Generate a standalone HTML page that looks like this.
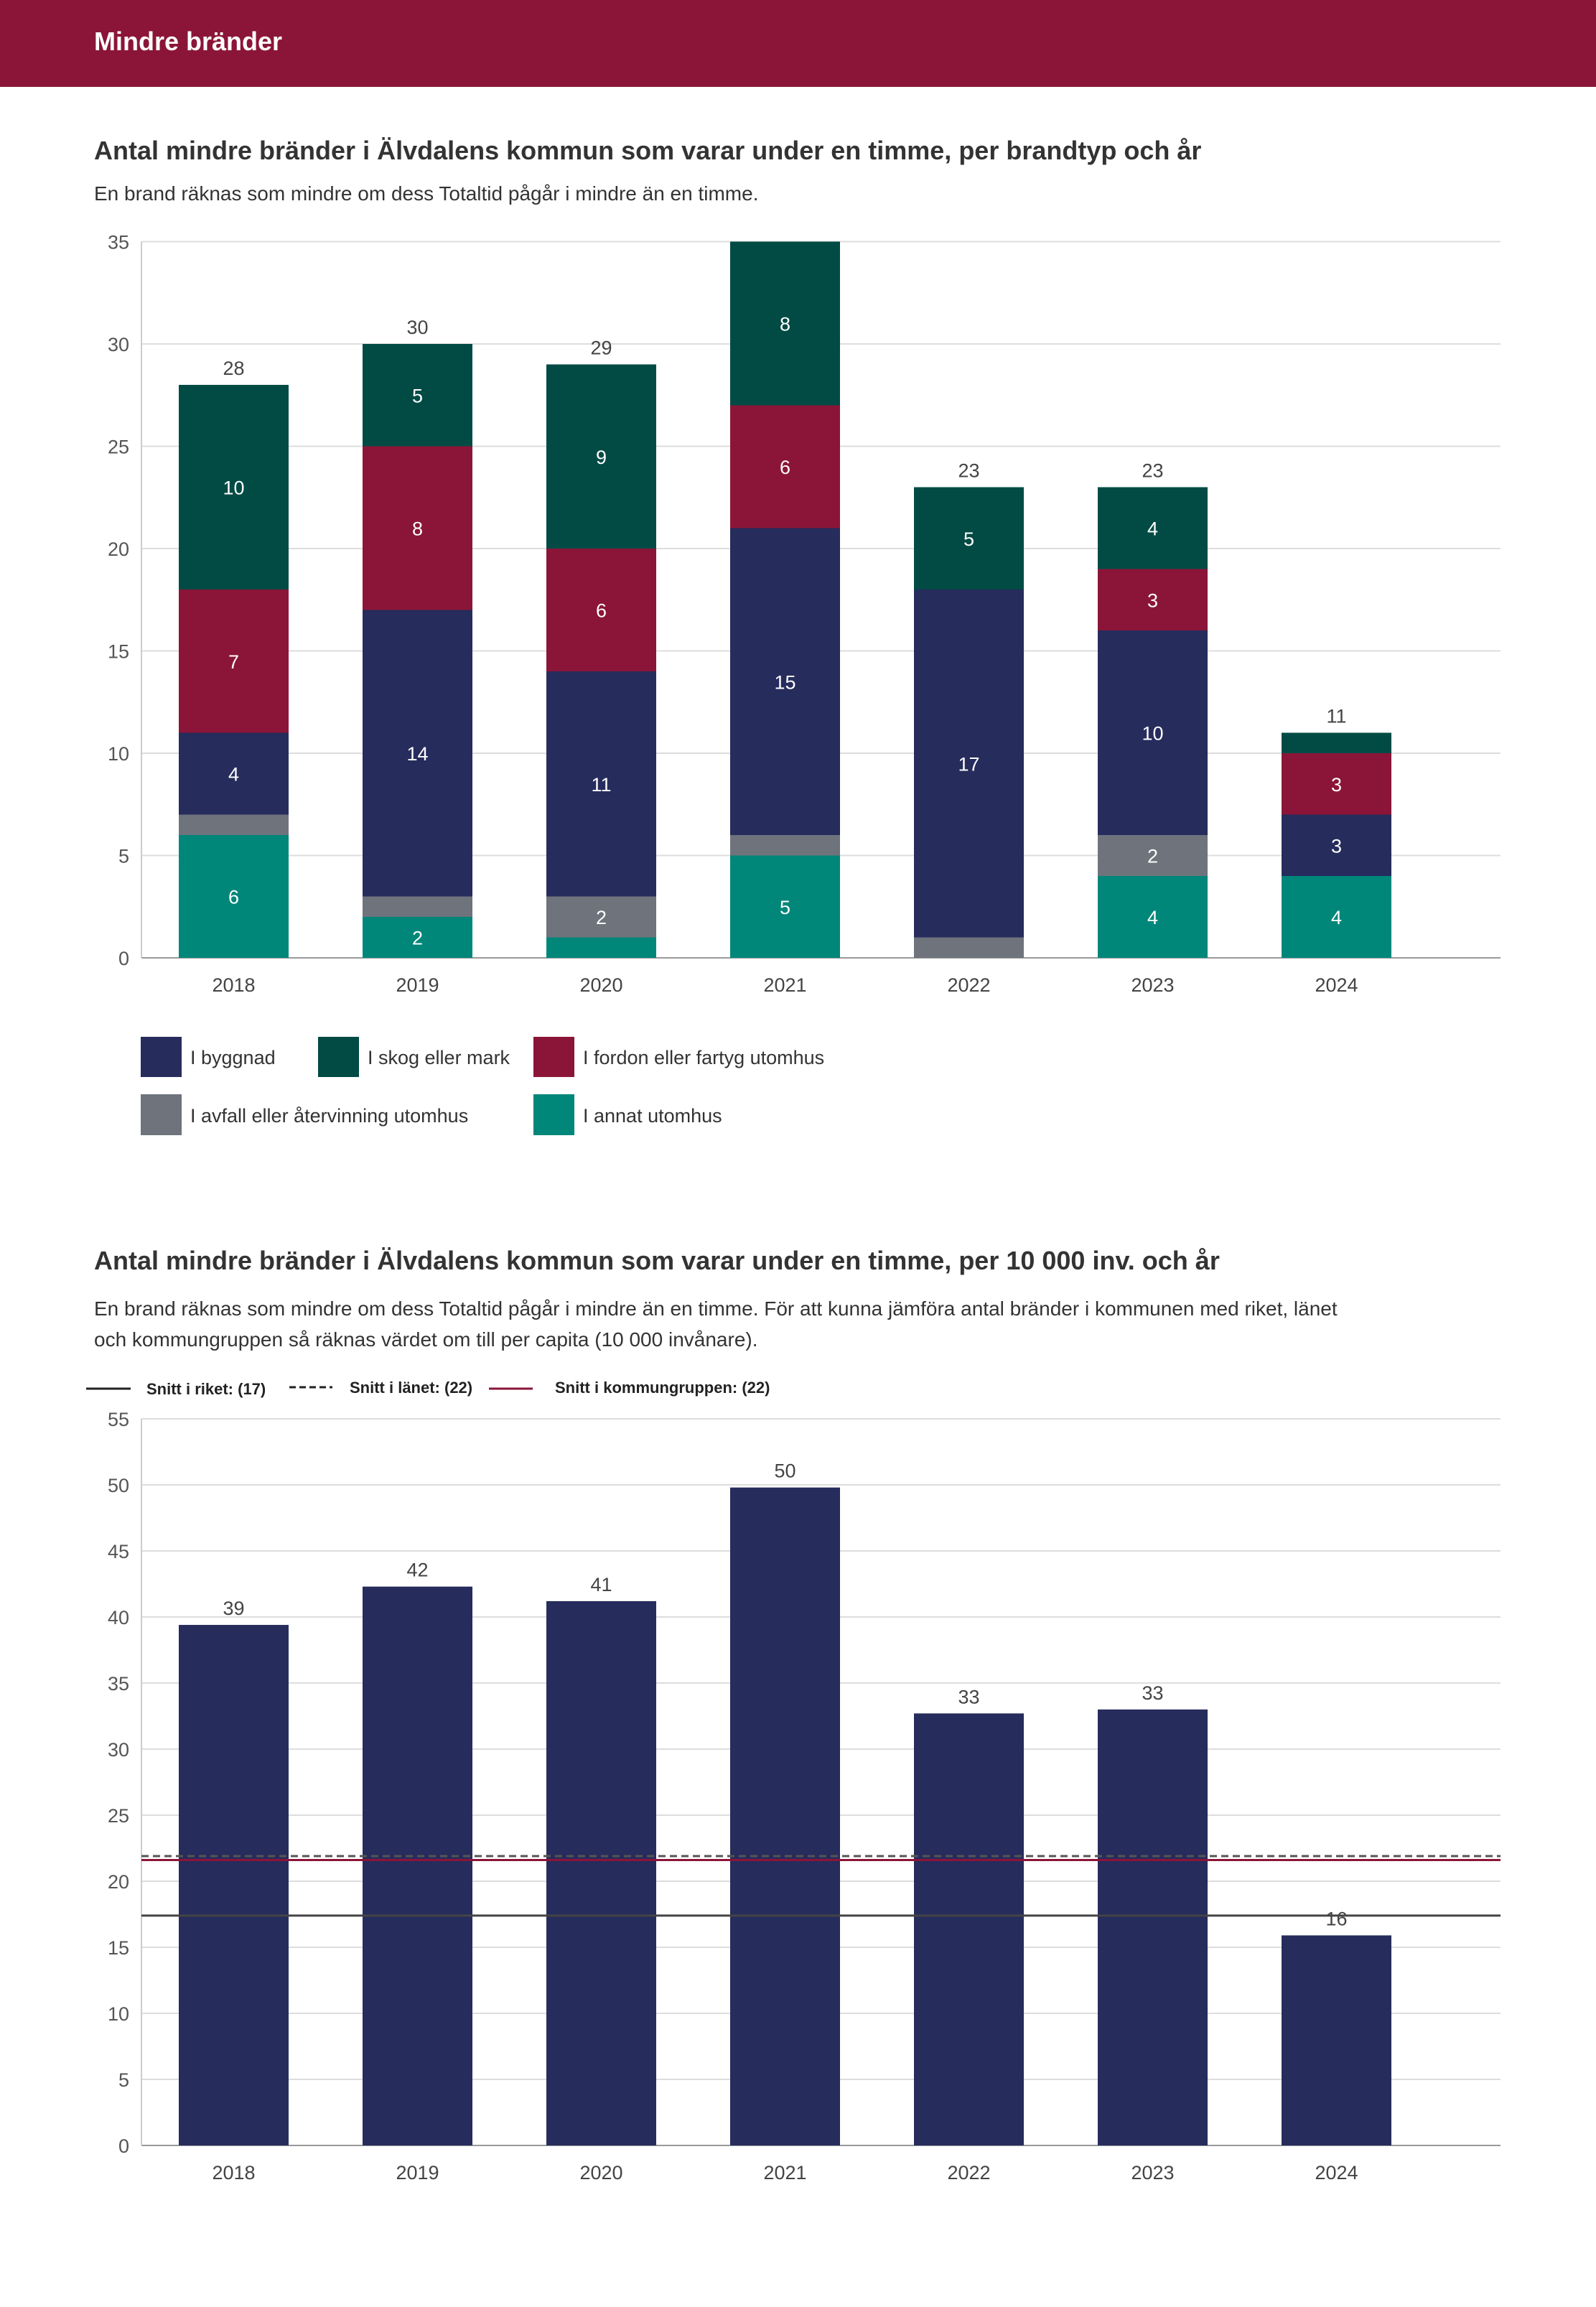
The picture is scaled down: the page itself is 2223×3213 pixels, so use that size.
<!DOCTYPE html>
<html><head><meta charset="utf-8"><style>
html,body{margin:0;padding:0;background:#fff;width:2223px;height:3213px;overflow:hidden;font-family:"Liberation Sans",sans-serif;}
svg text{font-family:"Liberation Sans",sans-serif;}
</style></head><body>
<svg id="page" width="2223" height="3213" viewBox="0 0 2223 3213" xmlns="http://www.w3.org/2000/svg">
<rect x="0" y="0" width="2223" height="121" fill="#8B1538"/>
<text x="131" y="70" font-size="36" font-weight="bold" fill="#fff">Mindre bränder</text>
<text x="131" y="222" font-size="36" font-weight="bold" fill="#333">Antal mindre bränder i Älvdalens kommun som varar under en timme, per brandtyp och år</text>
<text x="131" y="279" font-size="28" fill="#333">En brand räknas som mindre om dess Totaltid pågår i mindre än en timme.</text>
<g id="c1"></g>
<g>
<rect x="196" y="1444" width="57" height="56" fill="#262C5C"/>
<text x="265" y="1482" font-size="27" fill="#333">I byggnad</text>
<rect x="443" y="1444" width="57" height="56" fill="#024B45"/>
<text x="512" y="1482" font-size="27" fill="#333">I skog eller mark</text>
<rect x="743" y="1444" width="57" height="56" fill="#8B1538"/>
<text x="812" y="1482" font-size="27" fill="#333">I fordon eller fartyg utomhus</text>
<rect x="196" y="1524" width="57" height="57" fill="#6E737C"/>
<text x="265" y="1563" font-size="27" fill="#333">I avfall eller återvinning utomhus</text>
<rect x="743" y="1524" width="57" height="57" fill="#00877A"/>
<text x="812" y="1563" font-size="27" fill="#333">I annat utomhus</text>
</g>
<text x="131" y="1768" font-size="36" font-weight="bold" fill="#333">Antal mindre bränder i Älvdalens kommun som varar under en timme, per 10 000 inv. och år</text>
<text x="131" y="1832" font-size="28" fill="#333">En brand räknas som mindre om dess Totaltid pågår i mindre än en timme. För att kunna jämföra antal bränder i kommunen med riket, länet</text>
<text x="131" y="1875" font-size="28" fill="#333">och kommungruppen så räknas värdet om till per capita (10 000 invånare).</text>
<g>
<line x1="120" y1="1934" x2="182" y2="1934" stroke="#222" stroke-width="3"/>
<text x="204" y="1942" font-size="22" font-weight="bold" fill="#222">Snitt i riket: (17)</text>
<line x1="403" y1="1932" x2="463" y2="1932" stroke="#222" stroke-width="3" stroke-dasharray="9,5"/>
<text x="487" y="1940" font-size="22" font-weight="bold" fill="#222">Snitt i länet: (22)</text>
<line x1="681" y1="1934" x2="742" y2="1934" stroke="#8B1538" stroke-width="3"/>
<text x="773" y="1940" font-size="22" font-weight="bold" fill="#222">Snitt i kommungruppen: (22)</text>
</g>
<g id="c2"></g>
</svg>
<script>
const years = ["2018","2019","2020","2021","2022","2023","2024"];
const annat  = [6,2,1,5,0,4,4];
const avfall = [1,1,2,1,1,2,0];
const byggnad= [4,14,11,15,17,10,3];
const fordon = [7,8,6,6,0,3,3];
const skog   = [10,5,9,8,5,4,1];
const ticks1 = [0,5,10,15,20,25,30,35];
const perCapita = [39.4,42.3,41.2,49.8,32.7,33.0,15.9];
const perCapitaLabels = ["39","42","41","50","33","33","16"];
const ticks2 = [0,5,10,15,20,25,30,35,40,45,50,55];
const riket = 17.4;
const lanet = 21.9;
const kommungrupp = 21.6;

const NS="http://www.w3.org/2000/svg";
function mk(parent,tag,attrs){const e=document.createElementNS(NS,tag);for(const k in attrs)e.setAttribute(k,attrs[k]);parent.appendChild(e);return e;}
const L=197,R=2090,BW=153,STEP=256,C0=325.5;
function xc(i){return C0+i*STEP;}

// chart 1
(function(){
const g=document.getElementById('c1');
const y0=1334,ppu=28.5;
const y=v=>y0-v*ppu;
ticks1.forEach(t=>{
  const ln=mk(g,'line',{x1:L,x2:R,y1:y(t),y2:y(t),stroke:t===0?'#999':'#ddd','stroke-width':2});
  
  
  const tx=mk(g,'text',{x:180,y:y(t)+10,'font-size':27,fill:'#555','text-anchor':'end'});
  tx.textContent=t;
  
  
});
const ax=mk(g,'line',{x1:L,x2:L,y1:y(35),y2:y0,stroke:'#ccc','stroke-width':2});


const series=[[annat,'#00877A','annat'],[avfall,'#6E737C','avfall'],[byggnad,'#262C5C','byggnad'],[fordon,'#8B1538','fordon'],[skog,'#024B45','skog']];
years.forEach((yr,i)=>{
  let base=0;
  series.forEach(([arr,col,nm])=>{
    const v=arr[i]; if(v<=0)return;
    const r=mk(g,'rect',{x:xc(i)-BW/2,y:y(base+v),width:BW,height:v*ppu,fill:col});
    
    
    if(v>=2){
      const t=mk(g,'text',{x:xc(i),y:y(base+v/2)+10,'font-size':27,fill:'#fff','text-anchor':'middle'});
      t.textContent=v;
      
      
    }
    base+=v;
  });
  if(base<35){
    const t=mk(g,'text',{x:xc(i),y:y(base)-14,'font-size':27,fill:'#444','text-anchor':'middle'});
    t.textContent=base;
    
    
  }
  const xl=mk(g,'text',{x:xc(i),y:1381,'font-size':27,fill:'#444','text-anchor':'middle'});
  xl.textContent=yr;
  
  
});
})();

// chart 2
(function(){
const g=document.getElementById('c2');
const y0=2988,ppu=18.4;
const y=v=>y0-v*ppu;
ticks2.forEach(t=>{
  const ln=mk(g,'line',{x1:L,x2:R,y1:y(t),y2:y(t),stroke:t===0?'#999':'#ddd','stroke-width':2});
  
  
  const tx=mk(g,'text',{x:180,y:y(t)+10,'font-size':27,fill:'#555','text-anchor':'end'});
  tx.textContent=t;
  
  
});
const ax=mk(g,'line',{x1:L,x2:L,y1:y(55),y2:y0,stroke:'#ccc','stroke-width':2});


years.forEach((yr,i)=>{
  const v=perCapita[i];
  const r=mk(g,'rect',{x:xc(i)-BW/2,y:y(v),width:BW,height:v*ppu,fill:'#262C5C'});
  
  
  const t=mk(g,'text',{x:xc(i),y:y(v)-14,'font-size':27,fill:'#444','text-anchor':'middle'});
  t.textContent=perCapitaLabels[i];
  
  
  const xl=mk(g,'text',{x:xc(i),y:3035,'font-size':27,fill:'#444','text-anchor':'middle'});
  xl.textContent=yr;
  
  
});
const l1=mk(g,'line',{x1:L,x2:R,y1:y(lanet),y2:y(lanet),stroke:'#555','stroke-width':3,'stroke-dasharray':'10,6'});


const l2=mk(g,'line',{x1:L,x2:R,y1:y(kommungrupp),y2:y(kommungrupp),stroke:'#8B1538','stroke-width':3});


const l3=mk(g,'line',{x1:L,x2:R,y1:y(riket),y2:y(riket),stroke:'#444','stroke-width':3});


})();
</script>
</body></html>
